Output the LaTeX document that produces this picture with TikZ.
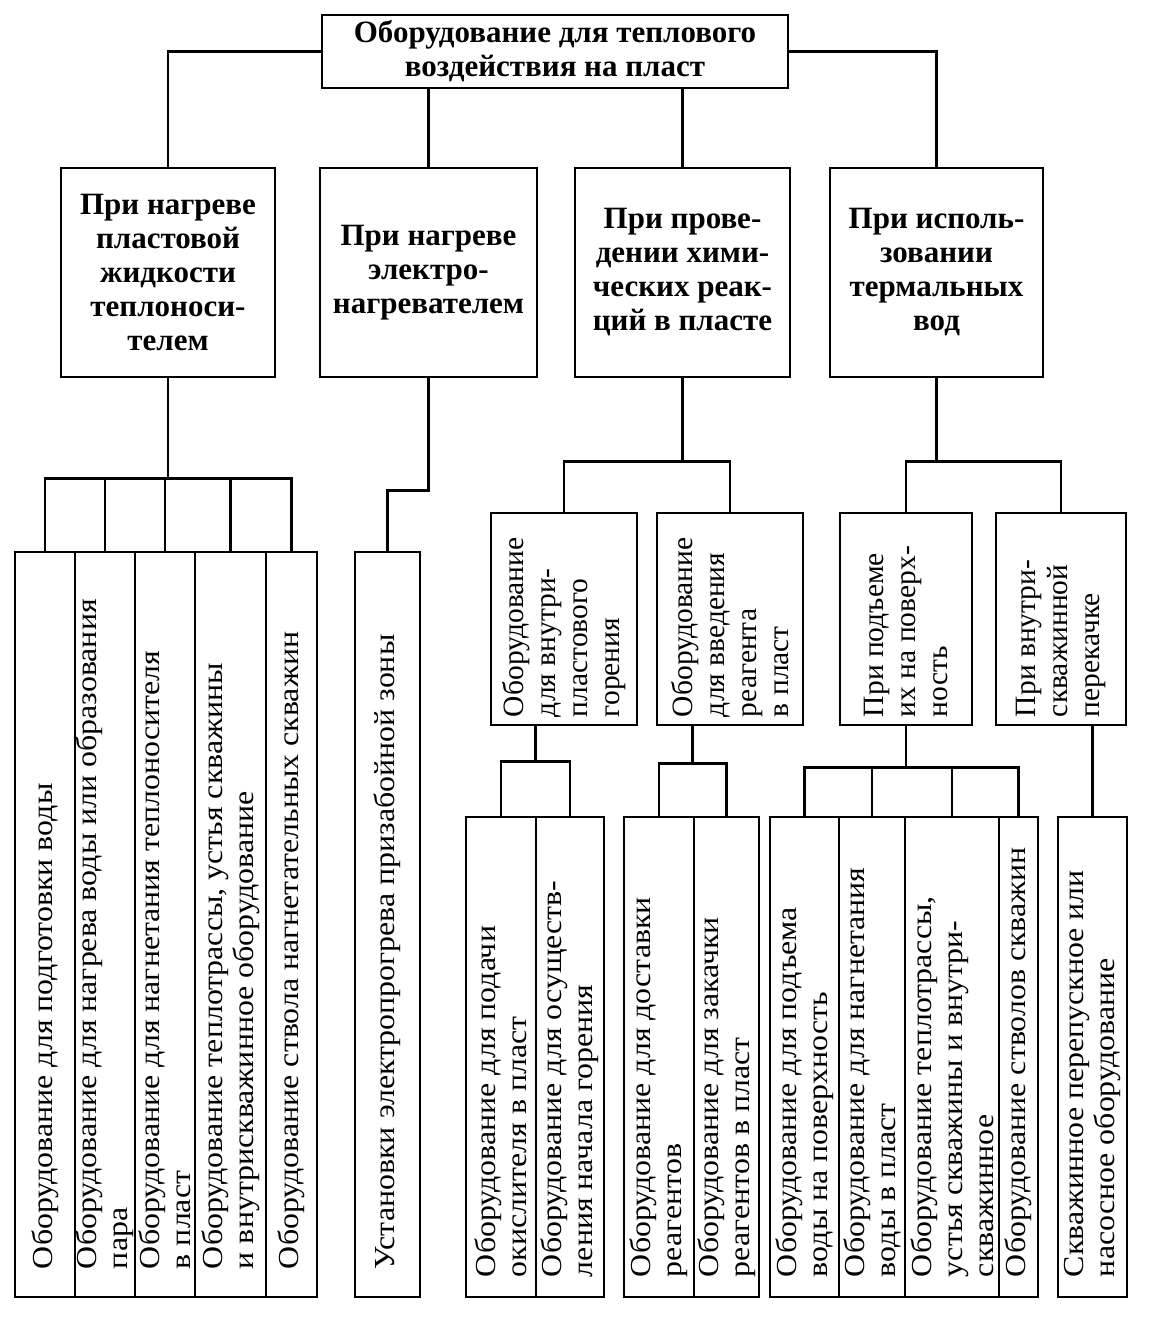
\documentclass[tikz,border=0pt]{standalone}
\usepackage{fontspec}
\setmainfont{Liberation Serif}
\newfontfamily\leaffont[FakeStretch=1.1]{Liberation Serif}
\usetikzlibrary{calc}
\tikzset{
  conn/.style={line width=2.8pt},
  hbox/.style={draw, line width=2.8pt, inner sep=0pt, align=center,
    font=\bfseries\fontsize{31}{34}\selectfont},
  vbox/.style={draw, line width=2.8pt, rotate=90, align=flush left, inner ysep=0pt},
  leafA/.style={vbox, font=\leaffont\fontsize{29}{31}\selectfont,
    minimum width=745pt, inner xsep=28pt, text width=689pt},
  leafB/.style={vbox, font=\leaffont\fontsize{29}{31}\selectfont,
    minimum width=480pt, inner xsep=20pt, text width=440pt},
  midbox/.style={vbox, font=\fontsize{29.5}{32}\selectfont,
    minimum width=212pt, inner xsep=8pt, text width=196pt},
}
\begin{document}
\begin{tikzpicture}[x=1pt,y=-1pt]
\useasboundingbox (0,0) rectangle (1154,1319);
% top
\node[hbox, minimum width=466pt, minimum height=73pt] (top) at (555,51.5)
  {Оборудование для теплового\\воздействия на пласт};
% level 1
\node[hbox, minimum width=214pt, minimum height=209pt] (b1) at (168,272.5)
  {При нагреве\\пластовой\\жидкости\\теплоноси-\\телем};
\node[hbox, minimum width=217pt, minimum height=209pt] (b2) at (428.5,272.5)
  {При нагреве\\электро-\\нагревателем};
\node[hbox, minimum width=215pt, minimum height=209pt] (b3) at (682.5,272.5)
  {При прове-\\дении хими-\\ческих реак-\\ций в пласте};
\node[hbox, minimum width=213pt, minimum height=209pt] (b4) at (936.5,272.5)
  {При исполь-\\зовании\\термальных\\вод};
% level 2
\node[midbox, minimum height=146pt] (b3a) at (564,619)
  {Оборудование\\для внутри-\\пластового\\горения};
\node[midbox, minimum height=146pt] (b3b) at (730,619)
  {Оборудование\\для введения\\реагента\\в пласт};
\node[midbox, minimum height=132pt] (b4a) at (906,619)
  {При подъеме\\их на поверх-\\ность};
\node[midbox, minimum height=130pt] (b4b) at (1061,619)
  {При внутри-\\скважинной\\перекачке};
% leaves group 1
\node[leafA, minimum height=60pt] (g1a) at (45,924.5)
  {Оборудование для подготовки воды};
\node[leafA, minimum height=60pt] (g1b) at (105,924.5)
  {Оборудование для нагрева воды или образования\\пара};
\node[leafA, minimum height=60pt] (g1c) at (165,924.5)
  {Оборудование для нагнетания теплоносителя\\в пласт};
\node[leafA, minimum height=71pt] (g1d) at (230.5,924.5)
  {Оборудование теплотрассы, устья скважины\\и внутрискважинное оборудование};
\node[leafA, minimum height=51pt] (g1e) at (291.5,924.5)
  {Оборудование ствола нагнетательных скважин};
% leaf 2
\node[leafA, minimum height=65pt] (l2) at (387.5,924.5)
  {Установки электропрогрева призабойной зоны};
% leaves group 3a
\node[leafB, minimum height=70pt] (g3a1) at (501,1057)
  {Оборудование для подачи\\окислителя в пласт};
\node[leafB, minimum height=68pt] (g3a2) at (570,1057)
  {Оборудование для осуществ-\\ления начала горения};
% leaves group 3b
\node[leafB, minimum height=70pt] (g3b1) at (659,1057)
  {Оборудование для доставки\\реагентов};
\node[leafB, minimum height=65pt] (g3b2) at (726.5,1057)
  {Оборудование для закачки\\реагентов в пласт};
% leaves group 4a
\node[leafB, minimum height=69pt] (g4a1) at (804.5,1057)
  {Оборудование для подъема\\воды на поверхность};
\node[leafB, minimum height=66pt] (g4a2) at (872,1057)
  {Оборудование для нагнетания\\воды в пласт};
\node[leafB, minimum height=94pt] (g4a3) at (952,1057)
  {Оборудование теплотрассы,\\устья скважины и внутри-\\скважинное};
\node[leafB, minimum height=39pt] (g4a4) at (1018.5,1057)
  {Оборудование стволов скважин};
% leaf 4b
\node[leafB, minimum height=69pt] (l4b) at (1092.5,1057)
  {Скважинное перепускное или\\насосное оборудование};
% connectors: top level
\draw[conn] (top.west) -| (b1.north);
\draw[conn] (top.east) -| (b4.north);
\draw[conn] (top.south -| b2.north) -- (b2.north);
\draw[conn] (top.south -| b3.north) -- (b3.north);
% branch 1
\coordinate (j1) at ($(b1.south)+(0,100)$);
\draw[conn] (b1.south) -- (j1);
\draw[conn] (g1a.east) |- (j1) -| (g1e.east);
\foreach \n in {g1b,g1c,g1d} \draw[conn] (\n.east |- j1) -- (\n.east);
% branch 2
\draw[conn] (b2.south) -- ++(0,112) -| (l2.east);
% branch 3
\coordinate (j3) at ($(b3.south)+(0,83)$);
\draw[conn] (b3.south) -- (j3);
\draw[conn] (b3a.east) |- (j3) -| (b3b.east);
% branch 4
\coordinate (j4) at ($(b4.south)+(0,83)$);
\draw[conn] (b4.south) -- (j4);
\draw[conn] (b4a.east) |- (j4) -| (b4b.east);
% branch 3a (rotated boxes: .west is the bottom edge)
\coordinate (j3a) at ($(g3a1.east)!0.5!(g3a2.east)+(0,-54)$);
\draw[conn] (j3a |- b3a.west) -- (j3a);
\draw[conn] (g3a1.east) |- (j3a) -| (g3a2.east);
% branch 3b
\coordinate (j3b) at ($(g3b1.east)!0.5!(g3b2.east)+(0,-52)$);
\draw[conn] (j3b |- b3b.west) -- (j3b);
\draw[conn] (g3b1.east) |- (j3b) -| (g3b2.east);
% branch 4a
\coordinate (j4a) at ($(b4a.west)+(0,41)$);
\draw[conn] (b4a.west) -- (j4a);
\draw[conn] (g4a1.east) |- (j4a) -| (g4a4.east);
\foreach \n in {g4a2,g4a3} \draw[conn] (\n.east |- j4a) -- (\n.east);
% branch 4b
\draw[conn] (l4b.east |- b4b.west) -- (l4b.east);
\end{tikzpicture}
\end{document}
